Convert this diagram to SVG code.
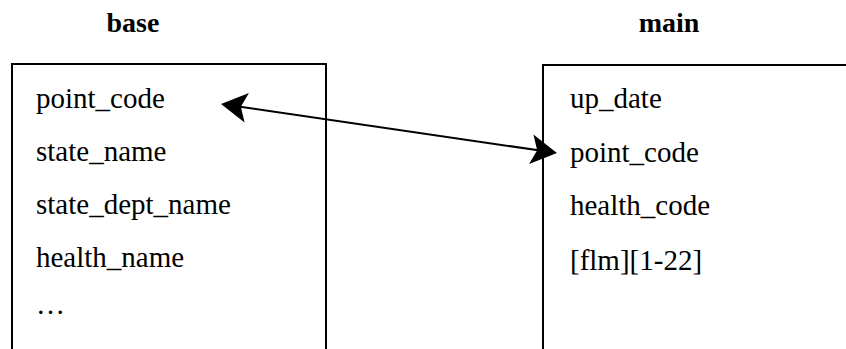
<svg xmlns="http://www.w3.org/2000/svg" width="846" height="349" viewBox="0 0 846 349">
  <style>
    .title { font-family: "Liberation Serif", "Times New Roman", serif; font-size: 28px; font-weight: bold; fill: #000; text-anchor: middle; }
    .field { font-family: "Liberation Serif", "Times New Roman", serif; font-size: 29px; fill: #000; }
    .table { fill: none; stroke: #000; stroke-width: 2; }
    .link { fill: none; stroke: #000; stroke-width: 2; }
  </style>
  <defs>
    <marker id="head" viewBox="0 0 26 30" refX="23" refY="15" markerWidth="26" markerHeight="30" markerUnits="userSpaceOnUse" orient="auto-start-reverse">
      <path d="M0,0 L26,15 L0,30 L6,15 Z" fill="#000"/>
    </marker>
  </defs>
  <rect width="846" height="349" fill="#fff"/>

  <!-- table: base -->
  <g id="base">
    <text class="title" x="133" y="32">base</text>
    <path class="table" d="M12,349 V64 H326 V349"/>
    <text class="field" x="36" y="108">point_code</text>
    <text class="field" x="36" y="161">state_name</text>
    <text class="field" x="36" y="214">state_dept_name</text>
    <text class="field" x="36" y="267">health_name</text>
    <text class="field" x="36" y="314">…</text>
  </g>

  <!-- table: main -->
  <g id="main">
    <text class="title" x="669" y="32">main</text>
    <path class="table" d="M543,349 V65 H848"/>
    <text class="field" x="570" y="108">up_date</text>
    <text class="field" x="570" y="162">point_code</text>
    <text class="field" x="570" y="215">health_code</text>
    <text class="field" x="570" y="270">[flm][1-22]</text>
  </g>

  <!-- key relation between the two point_code columns -->
  <g id="connectors">
    <line class="link" x1="224" y1="104.4" x2="554" y2="152.6" marker-start="url(#head)" marker-end="url(#head)"/>
  </g>
</svg>
